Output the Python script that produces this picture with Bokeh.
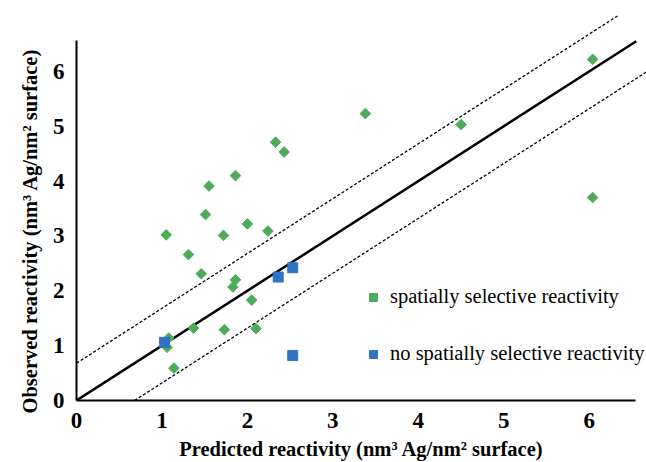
import numpy as np
from bokeh.plotting import figure
from bokeh.models import Range1d, FixedTicker, Legend, LegendItem, Title
from bokeh.embed import file_html
from bokeh.resources import INLINE

# --- data ---
green_x = [1.55, 1.86, 2.33, 2.43, 3.38, 4.50, 6.04, 6.04, 1.51, 1.05, 1.72, 2.00,
           2.24, 1.31, 1.46, 1.86, 1.83, 2.05, 1.37, 1.73, 2.10, 1.08, 1.06, 1.14]
green_y = [3.91, 4.10, 4.71, 4.53, 5.23, 5.03, 6.22, 3.70, 3.39, 3.02, 3.01, 3.22,
           3.09, 2.66, 2.31, 2.20, 2.07, 1.83, 1.32, 1.29, 1.31, 1.14, 0.97, 0.59]
blue_x = [1.03, 2.36, 2.53, 2.53]
blue_y = [1.06, 2.25, 2.42, 0.82]

parity_x = [0.0, 6.55]
band = 0.68
upper_x = [0.0, 6.33]
lower_x = [0.68, 7.0]
ticks = [0, 1, 2, 3, 4, 5, 6]

green_label = "spatially selective reactivity"
blue_label = "no spatially selective reactivity"
x_title = "Predicted reactivity (nm³ Ag/nm² surface)"
y_title = "Observed reactivity (nm³ Ag/nm² surface)"

GREEN = "#4DAC59"
BLUE = "#2F74C4"
FONT = "Liberation Serif"

p = figure(width=646, height=462, output_backend="svg", toolbar_location=None,
           x_range=Range1d(0, 6.67), y_range=Range1d(0, 7.11),
           min_border_left=76, min_border_right=0, min_border_top=10, min_border_bottom=57)
p.outline_line_color = None
p.xgrid.grid_line_color = None
p.ygrid.grid_line_color = None
p.background_fill_color = "white"

# reference lines
p.line(parity_x, parity_x, line_color="black", line_width=2.5)
p.line(upper_x, [v + band for v in upper_x], line_color="black", line_width=1.3, line_dash="3 2")
p.line(lower_x, [v - band for v in lower_x], line_color="black", line_width=1.3, line_dash="3 2")

g = p.scatter(green_x, green_y, marker="square", size=7.5, angle=np.pi / 4,
              fill_color=GREEN, line_color=GREEN)
b = p.scatter(blue_x, blue_y, marker="square", size=10, fill_color=BLUE, line_color=BLUE)

legend = Legend(items=[LegendItem(label=green_label, renderers=[g]),
                       LegendItem(label=blue_label, renderers=[b])],
                location=(287, 35), glyph_width=20, glyph_height=20, label_height=20,
                spacing=34, padding=0, margin=0, label_standoff=7,
                border_line_color=None, background_fill_alpha=0,
                label_text_font=FONT, label_text_font_size="20.5px", label_text_color="black")
p.add_layout(legend, "center")

for ax in (p.xaxis[0], p.yaxis[0]):
    ax.ticker = FixedTicker(ticks=ticks)
    ax.major_tick_in = 0
    ax.major_tick_out = 0
    ax.minor_tick_in = 0
    ax.minor_tick_out = 0
    ax.axis_line_width = 2
    ax.axis_line_color = "black"
    ax.major_label_text_font = FONT
    ax.major_label_text_font_style = "bold"
    ax.major_label_text_font_size = "23px"
    ax.major_label_text_color = "black"
    ax.axis_label_text_font = FONT
    ax.axis_label_text_font_style = "bold"
    ax.axis_label_text_font_size = "20.5px"
    ax.axis_label_text_color = "black"

p.xaxis[0].bounds = (0, 6.54)
p.yaxis[0].bounds = (0, 6.56)
p.xaxis[0].axis_label = x_title
p.xaxis[0].major_label_standoff = 12
p.xaxis[0].axis_label_standoff = 7
p.yaxis[0].major_label_standoff = 12

ytitle = Title(text=y_title, align="left", offset=-13, standoff=17,
               text_font=FONT, text_font_style="bold", text_font_size="20.5px",
               text_color="black")
p.add_layout(ytitle, "left")

open("out.html", "w").write(file_html(p, INLINE))
